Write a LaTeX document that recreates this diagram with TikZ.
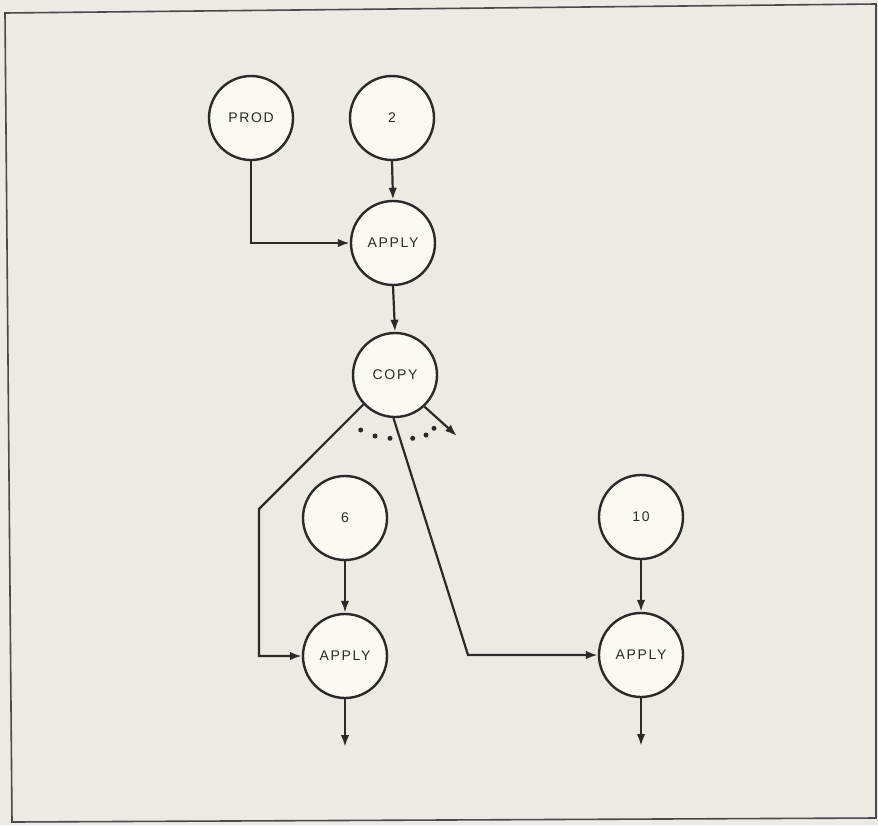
\documentclass[tikz,border=0pt]{standalone}
\usepackage{fontspec}
\setmainfont{Liberation Sans}[LetterSpace=12]
\usetikzlibrary{arrows.meta}
\definecolor{bgc}{HTML}{EDEAE3}
\definecolor{ink}{HTML}{2A2A2A}
\definecolor{disc}{HTML}{FAFAF3}
\tikzset{
  vert/.style={circle, draw=ink, fill=disc, line width=2.4pt, minimum size=84pt, inner sep=0pt, text=ink, font=\fontsize{14pt}{16pt}\selectfont},
  arr/.style={draw=ink, line width=2.2pt, -{Latex[length=12pt,width=8.5pt]}},
  dotmark/.style={circle, fill=ink, inner sep=0pt, minimum size=5pt}
}
\begin{document}
\begin{tikzpicture}[x=1pt,y=-1pt]
\useasboundingbox (0,0) rectangle (878,825);
\fill[bgc] (0,0) rectangle (878,825);
\draw[ink!85, line width=1.6pt] (5,13) -- (876,4) -- (876,818) -- (12,822) -- cycle;

\node[vert] (prod) at (251,118) {PROD};
\node[vert] (two)  at (392,118) {2};
\node[vert] (ap1)  at (393,243) {APPLY};
\node[vert] (copy) at (395,375) {COPY};
\node[vert] (six)  at (345,518) {6};
\node[vert] (ap2)  at (345,656) {APPLY};
\node[vert] (ten)  at (641,517) {10};
\node[vert] (ap3)  at (641,655) {APPLY};

\coordinate (lc) at (259,509);
\coordinate (rc) at (468,655);
\coordinate (free) at (457,436);
\coordinate (o2) at (345,747);
\coordinate (o3) at (641,746);

\draw[arr] (prod.south) |- (ap1.west);
\draw[arr] (two.south) -- (ap1.north);
\draw[arr] (ap1.south) -- (copy.north);
\draw[arr] (copy.223) -- (lc) |- (ap2.west);
\draw[arr] (copy.268) -- (rc) -- (ap3.west);
\draw[arr] (copy.313) -- (free);
\draw[arr] (six.south) -- (ap2.north);
\draw[arr] (ten.south) -- (ap3.north);
\draw[arr] (ap2.south) -- (o2);
\draw[arr] (ap3.south) -- (o3);

\foreach \p/\q [count=\i] in {360.7/430,375/436,390/438.3,412.7/438.3,426/435,434/428.3}
  \node[dotmark] (d\i) at (\p,\q) {};
\end{tikzpicture}
\end{document}
